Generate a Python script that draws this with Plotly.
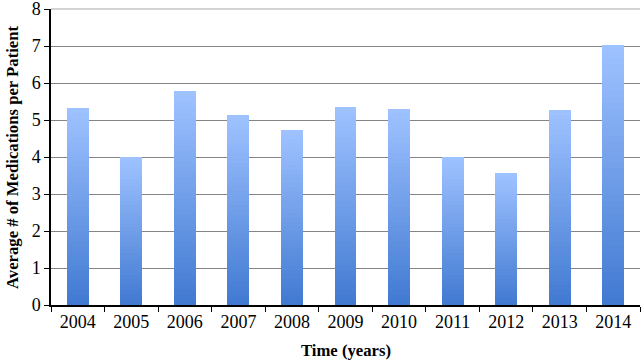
import plotly.graph_objects as go

years = ["2004", "2005", "2006", "2007", "2008", "2009", "2010", "2011", "2012", "2013", "2014"]
avg_meds = [5.33, 4.01, 5.78, 5.13, 4.72, 5.34, 5.31, 4.01, 3.56, 5.28, 7.04]

top_rgb = (158, 194, 255)
bot_rgb = (66, 122, 210)
N = 40

fig = go.Figure()
for k in range(N):
    t = k / (N - 1)  # 0 = bottom, 1 = top
    c = tuple(round(b + (tp - b) * t) for b, tp in zip(bot_rgb, top_rgb))
    fig.add_trace(go.Bar(
        x=years,
        y=[v / N for v in avg_meds],
        marker=dict(color=f"rgb{c}", line=dict(width=0)),
        width=0.41,
        showlegend=False,
        hoverinfo="skip",
    ))

font_family = "Liberation Serif, Times New Roman, serif"
fig.update_layout(
    barmode="stack",
    width=641, height=361,
    margin=dict(l=51, r=1, t=9, b=56),
    plot_bgcolor="white", paper_bgcolor="white",
    font=dict(family=font_family, color="black", size=18),
    annotations=[
        dict(text="<b>Average # of Medications per Patient</b>", textangle=-90,
             xref="paper", yref="paper", x=0, y=0.5, xanchor="center", yanchor="middle",
             xshift=-39, showarrow=False, font=dict(size=16.7, family=font_family)),
        dict(text="<b>Time (years)</b>",
             xref="paper", yref="paper", x=0.5, y=0, xanchor="center", yanchor="middle",
             yshift=-45, showarrow=False, font=dict(size=16.7, family=font_family)),
    ],
    shapes=[
        dict(type="line", xref="paper", yref="paper", x0=0, x1=1, y0=1, y1=1,
             line=dict(color="#c4c4c4", width=1.5), layer="above"),
    ],
)
fig.update_xaxes(
    type="category", automargin=False,
    showline=True, linecolor="black", linewidth=1.5,
    ticks="outside", tickson="boundaries", ticklen=5, tickcolor="black",
    tickfont=dict(size=18), ticklabeloverflow="allow",
    showgrid=False,
)
fig.update_yaxes(
    range=[0, 8], dtick=1, automargin=False,
    showline=True, linecolor="black", linewidth=1.5,
    ticks="outside", ticklen=5, tickcolor="black",
    tickfont=dict(size=18), ticklabeloverflow="allow",
    showgrid=True, gridcolor="#858585", gridwidth=1.2,
    zeroline=False,
)

fig.write_html(
    "out.html",
    config={"displayModeBar": False},
    post_script="document.body.style.margin='0';document.body.style.padding='0';",
)
